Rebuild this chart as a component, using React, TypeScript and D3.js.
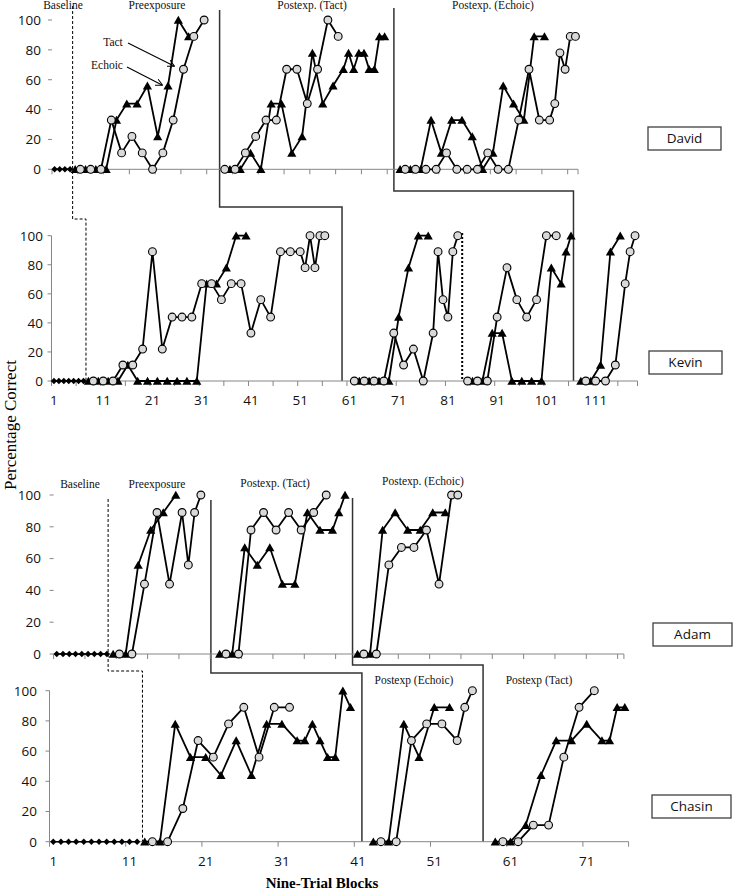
import React from "react";
import * as d3 from "d3";

type Pt = [number, number];

const yTicks = [0, 20, 40, 60, 80, 100];
const kevinXLabels = [1, 11, 21, 31, 41, 51, 61, 71, 81, 91, 101, 111];
const chasinXLabels = [1, 11, 21, 31, 41, 51, 61, 71];

// ---------- David ----------
const davidBaseline: Pt[] = [[1, 0], [2, 0], [3, 0], [4, 0]];
const davidPreTact: Pt[] = [[5, 0], [7, 0], [9, 0], [11, 0], [13, 33], [15, 44], [17, 44], [19, 56], [21, 22], [23, 56], [25, 100], [27, 89]];
const davidPreEchoic: Pt[] = [[6, 0], [8, 0], [10, 0], [12, 33], [14, 11], [16, 22], [18, 11], [20, 0], [22, 11], [24, 33], [26, 67], [28, 89], [30, 100]];
const davidPostTactTact: Pt[] = [[35, 0], [37, 0], [39, 11], [41, 0], [43, 44], [45, 44], [47, 11], [49, 22], [51, 78], [53, 44], [55, 56], [57, 67], [58, 78], [59, 67], [60, 78], [61, 78], [62, 67], [63, 67], [64, 89], [65, 89]];
const davidPostTactEchoic: Pt[] = [[34, 0], [36, 0], [38, 11], [40, 22], [42, 33], [44, 33], [46, 67], [48, 67], [50, 44], [52, 67], [54, 100], [56, 89]];
const davidPostEchoicTact: Pt[] = [[68, 0], [70, 0], [72, 0], [74, 33], [76, 11], [78, 33], [80, 33], [82, 22], [84, 0], [86, 11], [88, 56], [90, 44], [92, 33], [94, 89], [96, 89]];
const davidPostEchoicEchoic: Pt[] = [[69, 0], [71, 0], [73, 0], [75, 0], [77, 11], [79, 0], [81, 0], [83, 0], [85, 11], [87, 0], [89, 0], [91, 33], [93, 67], [95, 33], [97, 33], [98, 44], [99, 78], [100, 67], [101, 89], [102, 89]];
const davidPhaseChanges = [4.5, 33, 66.8];

// ---------- Kevin ----------
const kevinBaseline: Pt[] = [[1, 0], [2, 0], [3, 0], [4, 0], [5, 0], [6, 0], [7, 0]];
const kevinPreTact: Pt[] = [[8, 0], [10, 0], [12, 0], [14, 0], [16, 11], [18, 0], [20, 0], [22, 0], [24, 0], [26, 0], [28, 0], [30, 0], [32, 67], [34, 67], [36, 78], [38, 100], [40, 100]];
const kevinPreEchoic: Pt[] = [[9, 0], [11, 0], [13, 0], [15, 11], [17, 11], [19, 22], [21, 89], [23, 22], [25, 44], [27, 44], [29, 44], [31, 67], [33, 67], [35, 56], [37, 67], [39, 67], [41, 33], [43, 56], [45, 44], [47, 89], [49, 89], [51, 89], [52, 78], [53, 100], [54, 78], [55, 100], [56, 100]];
const kevinP2Tact: Pt[] = [[63, 0], [65, 0], [67, 0], [69, 0], [71, 44], [73, 78], [75, 100], [77, 100]];
const kevinP2Echoic: Pt[] = [[62, 0], [64, 0], [66, 0], [68, 0], [70, 33], [72, 11], [74, 22], [76, 0], [78, 33], [79, 89], [80, 56], [81, 44], [82, 89], [83, 100]];
const kevinP3Tact: Pt[] = [[86, 0], [88, 0], [90, 33], [92, 33], [94, 0], [96, 0], [98, 0], [100, 0], [102, 78], [104, 67], [105, 89], [106, 100]];
const kevinP3Echoic: Pt[] = [[85, 0], [87, 0], [89, 0], [91, 44], [93, 78], [95, 56], [97, 44], [99, 56], [101, 100], [103, 100]];
const kevinP4Tact: Pt[] = [[108, 0], [110, 0], [112, 11], [114, 89], [116, 100]];
const kevinP4Echoic: Pt[] = [[109, 0], [111, 0], [113, 0], [115, 11], [117, 67], [118, 89], [119, 100]];
const kevinPhaseChanges = [7.5, 59.5, 83.9, 106.5];

// ---------- Adam ----------
const adamBaseline: Pt[] = [[1, 0], [2, 0], [3, 0], [4, 0], [5, 0], [6, 0], [7, 0], [8, 0], [9, 0]];
const adamPreTact: Pt[] = [[10, 0], [12, 0], [14, 56], [16, 78], [18, 89], [20, 100]];
const adamPreEchoic: Pt[] = [[11, 0], [13, 0], [15, 44], [17, 89], [19, 44], [21, 89], [22, 56], [23, 89], [24, 100]];
const adamPostTactTact: Pt[] = [[27, 0], [29, 0], [31, 67], [33, 56], [35, 67], [37, 44], [39, 44], [41, 89], [43, 78], [45, 78], [46, 89], [47, 100]];
const adamPostTactEchoic: Pt[] = [[28, 0], [30, 0], [32, 78], [34, 89], [36, 78], [38, 89], [40, 78], [42, 89], [44, 100]];
const adamPostEchoicTact: Pt[] = [[49, 0], [51, 0], [53, 78], [55, 89], [57, 78], [59, 78], [61, 89], [63, 89]];
const adamPostEchoicEchoic: Pt[] = [[50, 0], [52, 0], [54, 56], [56, 67], [58, 67], [60, 78], [62, 44], [64, 100], [65, 100]];
const adamPhaseChanges = [9.2, 25.6, 48.2];

// ---------- Chasin ----------
const chasinBaseline: Pt[] = [[1, 0], [2, 0], [3, 0], [4, 0], [5, 0], [6, 0], [7, 0], [8, 0], [9, 0], [10, 0], [11, 0], [12, 0]];
const chasinPreTact: Pt[] = [[13, 0], [15, 0], [17, 78], [19, 56], [21, 56], [23, 44], [25, 67], [27, 44], [29, 78], [31, 78], [33, 67], [34, 67], [35, 78], [36, 67], [37, 56], [38, 56], [39, 100], [40, 89]];
const chasinPreEchoic: Pt[] = [[14, 0], [16, 0], [18, 22], [20, 67], [22, 56], [24, 78], [26, 89], [28, 56], [30, 89], [32, 89]];
const chasinPostEchoicTact: Pt[] = [[43, 0], [45, 0], [47, 78], [49, 56], [51, 89], [53, 89]];
const chasinPostEchoicEchoic: Pt[] = [[44, 0], [46, 0], [48, 67], [50, 78], [52, 78], [54, 67], [55, 89], [56, 100]];
const chasinPostTactTact: Pt[] = [[59, 0], [61, 0], [63, 11], [65, 44], [67, 67], [69, 67], [71, 78], [73, 67], [74, 67], [75, 89], [76, 89]];
const chasinPostTactEchoic: Pt[] = [[60, 0], [62, 0], [64, 11], [66, 11], [68, 56], [70, 89], [72, 100]];
const chasinPhaseChanges = [12.7, 41.5, 57.4];

interface PanelDef {
  name: string;
  x: d3.ScaleLinear<number, number>;
  y: d3.ScaleLinear<number, number>;
  baseline: Pt[];
  phases: { tact: Pt[]; echoic: Pt[] }[];
  tickStep: number;
  xLabels: number[];
  yAxisLine: boolean;
  yLabelX: number;
  box: [number, number, number, number];
}

const xD = d3.scaleLinear().domain([0.5, 102.5]).range([52, 578]);
const yD = d3.scaleLinear().domain([0, 100]).range([169.3, 20]);
const xK = d3.scaleLinear().domain([0.5, 119.5]).range([51.5, 637.5]);
const yK = d3.scaleLinear().domain([0, 100]).range([381, 235.7]);
const xA = d3.scaleLinear().domain([0.5, 91.5]).range([53.6, 623.9]);
const yA = d3.scaleLinear().domain([0, 100]).range([654, 495]);
const xC = d3.scaleLinear().domain([0.5, 76.5]).range([49.5, 628.6]);
const yC = d3.scaleLinear().domain([0, 100]).range([841.7, 690.7]);

const panels: PanelDef[] = [
  {
    name: "David", x: xD, y: yD, baseline: davidBaseline,
    phases: [
      { tact: davidPreTact, echoic: davidPreEchoic },
      { tact: davidPostTactTact, echoic: davidPostTactEchoic },
      { tact: davidPostEchoicTact, echoic: davidPostEchoicEchoic },
    ],
    tickStep: 5, xLabels: [], yAxisLine: false, yLabelX: 41, box: [648, 127, 73, 23],
  },
  {
    name: "Kevin", x: xK, y: yK, baseline: kevinBaseline,
    phases: [
      { tact: kevinPreTact, echoic: kevinPreEchoic },
      { tact: kevinP2Tact, echoic: kevinP2Echoic },
      { tact: kevinP3Tact, echoic: kevinP3Echoic },
      { tact: kevinP4Tact, echoic: kevinP4Echoic },
    ],
    tickStep: 5, xLabels: kevinXLabels, yAxisLine: true, yLabelX: 43, box: [649, 351, 73, 23],
  },
  {
    name: "Adam", x: xA, y: yA, baseline: adamBaseline,
    phases: [
      { tact: adamPreTact, echoic: adamPreEchoic },
      { tact: adamPostTactTact, echoic: adamPostTactEchoic },
      { tact: adamPostEchoicTact, echoic: adamPostEchoicEchoic },
    ],
    tickStep: 5, xLabels: [], yAxisLine: false, yLabelX: 41, box: [653, 623, 79, 23],
  },
  {
    name: "Chasin", x: xC, y: yC, baseline: chasinBaseline,
    phases: [
      { tact: chasinPreTact, echoic: chasinPreEchoic },
      { tact: chasinPostEchoicTact, echoic: chasinPostEchoicEchoic },
      { tact: chasinPostTactTact, echoic: chasinPostTactEchoic },
    ],
    tickStep: 10, xLabels: chasinXLabels, yAxisLine: true, yLabelX: 37, box: [652, 795, 79, 23],
  },
];

const SANS = "'Open Sans', 'Noto Sans', sans-serif";
const SERIF = "'Liberation Serif', 'Times New Roman', serif";
const AXIS = "#868686";

const triPath = "M0,-4.2L4.6,3.8L-4.6,3.8Z";
const diamondPath = "M0,-3.2L3.2,0L0,3.2L-3.2,0Z";

function Panel({ p }: { p: PanelDef }) {
  const { x, y } = p;
  const [d0, d1] = x.domain();
  const [r0, r1] = x.range();
  const line = d3.line<Pt>().x((d) => x(d[0])).y((d) => y(d[1]));
  const ticks: number[] = [];
  for (let t = d0; t <= d1 + 1e-6; t += p.tickStep) ticks.push(t);
  if (ticks[ticks.length - 1] < d1 - 1e-6) ticks.push(d1);
  return (
    <g>
      {p.yAxisLine && <line x1={r0} x2={r0} y1={y(100)} y2={y(0)} stroke={AXIS} strokeWidth={1} />}
      {yTicks.map((t) => (
        <g key={t}>
          <line x1={r0 - 4} x2={r0} y1={y(t)} y2={y(t)} stroke={AXIS} strokeWidth={1} />
          <text x={p.yLabelX} y={y(t)} dy="0.36em" textAnchor="end" fontFamily={SANS} fontSize={13.5} fill="#111">
            {t}
          </text>
        </g>
      ))}
      <line x1={r0} x2={r1} y1={y(0)} y2={y(0)} stroke={AXIS} strokeWidth={1} />
      {ticks.map((t) => (
        <line key={t} x1={x(t)} x2={x(t)} y1={y(0)} y2={y(0) + 5} stroke={AXIS} strokeWidth={1} />
      ))}
      {p.xLabels.map((t) => (
        <text key={t} x={x(t)} y={y(0) + 24} textAnchor="middle" fontFamily={SANS} fontSize={13.5} fill="#111">
          {t}
        </text>
      ))}
      <path d={line(p.baseline) || ""} fill="none" stroke="#000" strokeWidth={1.6} />
      {p.baseline.map((d, i) => (
        <path key={i} d={diamondPath} transform={`translate(${x(d[0])},${y(d[1])})`} fill="#000" />
      ))}
      {p.phases.map((ph, i) => (
        <g key={i}>
          <path d={line(ph.tact) || ""} fill="none" stroke="#000" strokeWidth={1.8} strokeLinejoin="round" />
          <path d={line(ph.echoic) || ""} fill="none" stroke="#000" strokeWidth={1.8} strokeLinejoin="round" />
          {ph.tact.map((d, j) => (
            <path key={"t" + j} d={triPath} transform={`translate(${x(d[0])},${y(d[1])})`} fill="#000" />
          ))}
          {ph.echoic.map((d, j) => (
            <circle key={"e" + j} cx={x(d[0])} cy={y(d[1])} r={3.9} fill="#d9d9d9" stroke="#000" strokeWidth={1.1} />
          ))}
        </g>
      ))}
      <rect x={p.box[0]} y={p.box[1]} width={p.box[2]} height={p.box[3]} fill="#fff" stroke="#404040" strokeWidth={1.3} />
      <text x={p.box[0] + p.box[2] / 2} y={p.box[1] + p.box[3] / 2} dy="0.36em" textAnchor="middle" fontFamily={SANS} fontSize={13.5} fill="#111">
        {p.name}
      </text>
    </g>
  );
}

export default function App() {
  const stepPath = (pts: Pt[]) => d3.line<Pt>()(pts) || "";
  const dP = davidPhaseChanges, kP = kevinPhaseChanges, aP = adamPhaseChanges, cP = chasinPhaseChanges;
  const phaseLabel = (t: string, x: number, y: number, k: string) => (
    <text key={k} x={x} y={y} textAnchor="middle" fontFamily={SERIF} fontSize={11.5} fill="#111">
      {t}
    </text>
  );
  return (
    <svg width={733} height={891} style={{ position: "absolute", left: 0, top: 0, background: "#fff" }}>
      <defs>
        <marker id="arr" viewBox="0 0 10 10" refX="9" refY="5" markerWidth="7" markerHeight="7" orient="auto-start-reverse" markerUnits="userSpaceOnUse">
          <path d="M0,0L10,5L0,10" fill="none" stroke="#000" strokeWidth={1.4} />
        </marker>
      </defs>
      <path d={stepPath([[xD(dP[0]), 6], [xD(dP[0]), 219], [xK(kP[0]), 219], [xK(kP[0]), yK(0)]])} fill="none" stroke="#000" strokeWidth={1} strokeDasharray="3,2" />
      <path d={stepPath([[xD(dP[1]), 10], [xD(dP[1]), 207], [xK(kP[1]), 207], [xK(kP[1]), yK(0)]])} fill="none" stroke="#333" strokeWidth={1.5} />
      <path d={stepPath([[xD(dP[2]), 8], [xD(dP[2]), 191], [xK(kP[3]), 191], [xK(kP[3]), yK(0)]])} fill="none" stroke="#333" strokeWidth={1.5} />
      <path d={stepPath([[xK(kP[2]), 233], [xK(kP[2]), yK(0)]])} fill="none" stroke="#000" strokeWidth={2} strokeDasharray="2,2" />
      <path d={stepPath([[xA(aP[0]), 499], [xA(aP[0]), 671], [xC(cP[0]), 671], [xC(cP[0]), yC(0)]])} fill="none" stroke="#000" strokeWidth={1} strokeDasharray="3,2" />
      <path d={stepPath([[xA(aP[1]), 500], [xA(aP[1]), 673], [xC(cP[1]), 673], [xC(cP[1]), yC(0)]])} fill="none" stroke="#333" strokeWidth={1.5} />
      <path d={stepPath([[xA(aP[2]), 498], [xA(aP[2]), 665], [xC(cP[2]), 665], [xC(cP[2]), yC(0)]])} fill="none" stroke="#333" strokeWidth={1.5} />

      {panels.map((p) => (
        <Panel key={p.name} p={p} />
      ))}

      {phaseLabel("Baseline", 63, 9, "d0")}
      {phaseLabel("Preexposure", 157, 9, "d1")}
      {phaseLabel("Postexp. (Tact)", 312, 9, "d2")}
      {phaseLabel("Postexp. (Echoic)", 493, 9, "d3")}
      {phaseLabel("Baseline", 80, 488, "a0")}
      {phaseLabel("Preexposure", 157, 488, "a1")}
      {phaseLabel("Postexp. (Tact)", 275, 487, "a2")}
      {phaseLabel("Postexp. (Echoic)", 423, 485, "a3")}
      {phaseLabel("Postexp (Echoic)", 414, 684, "c1")}
      {phaseLabel("Postexp (Tact)", 539, 684, "c2")}

      {phaseLabel("Tact", 113, 46, "tact")}
      {phaseLabel("Echoic", 107, 69, "echoic")}
      <line x1={128} y1={43} x2={174} y2={66} stroke="#000" strokeWidth={1.1} markerEnd="url(#arr)" />
      <line x1={127} y1={67} x2={162} y2={85} stroke="#000" strokeWidth={1.1} markerEnd="url(#arr)" />

      <text transform="translate(16,425) rotate(-90)" textAnchor="middle" fontFamily={SERIF} fontSize={17} fill="#000">
        Percentage Correct
      </text>
      <text x={322} y={888} textAnchor="middle" fontFamily={SERIF} fontSize={15} fontWeight="bold" fill="#000">
        Nine-Trial Blocks
      </text>
    </svg>
  );
}
